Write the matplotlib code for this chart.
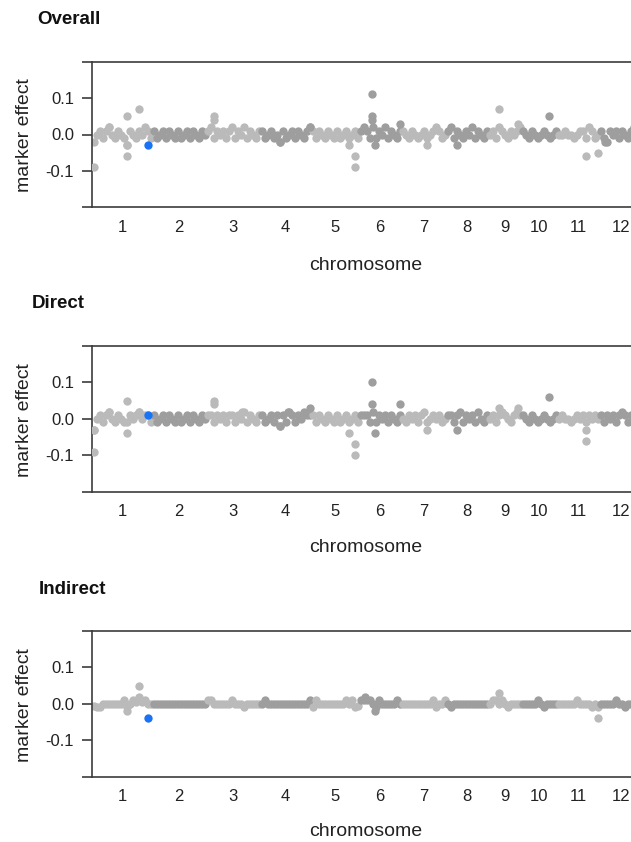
import matplotlib
matplotlib.use('Agg')
import matplotlib.pyplot as plt
import numpy as np

plt.rcParams['font.family'] = ['Liberation Sans', 'DejaVu Sans']

chrom_names = ['1', '2', '3', '4', '5', '6', '7', '8', '9', '10', '11', '12']
chrom_markers = [20, 18, 18, 17, 16, 14, 15, 14, 11, 12, 14, 15]

# marker effects along each chromosome (units of 0.01)
overall_band = [
    [-2, 0, 1, -1, 1, 2, 0, -1, 1, 0, -1, -3, 1, 0, -1, 1, 0, 2, 1, -1],
    [1, -1, 0, 1, -1, 1, 0, -1, 1, -1, 0, 1, -1, 1, 0, -1, 1, 0],
    [1, 2, -1, 1, 0, 1, -1, 1, 2, -1, 1, 0, 2, -1, 1, 0, -1, 1],
    [1, -1, 0, 1, -1, 0, -2, 1, -1, 0, 1, -1, 1, 0, -1, 1, 2],
    [1, -1, 1, 0, -1, 1, 0, -1, 1, -1, 0, 1, -1, 0, 1, -1],
    [1, 2, 1, -1, 2, -1, 1, 0, 2, -1, 1, 0, -1, 1],
    [1, 0, -1, 1, 0, -1, 0, 1, -1, 0, 1, 2, 1, -1, 0],
    [1, 2, -1, 1, 0, -1, 1, 0, 2, -1, 1, 0, -1, 1],
    [0, 1, -1, 2, 1, 0, -1, 1, 0, 1, 2],
    [1, 0, -1, 1, 0, -1, 0, 1, 0, -1, 0, 1],
    [0, 0, 1, 0, 0, -1, 0, 1, 1, -1, 2, 1, -1, 0],
    [1, -1, -2, 1, 0, 1, -1, 1, 0, -1, 1, 2, 1, -1, 1],
]
direct_band = [
    [-3, 0, 1, -1, 1, 2, 0, -1, 1, 0, -1, -1, 1, 0, 1, 2, 0, 1, 1, -1],
    [1, -1, 0, 1, -1, 1, 0, -1, 1, -1, 0, 1, -1, 1, 0, -1, 1, 0],
    [1, 1, -1, 1, 0, 1, -1, 1, 1, -1, 1, 0, 2, -1, 1, 0, -1, 1],
    [1, -1, 0, 1, -1, 1, -2, 1, -1, 2, 1, -1, 1, 0, 2, 1, 1],
    [1, -1, 1, 0, -1, 1, 0, -1, 1, -1, 0, 1, -1, 0, 1, -1],
    [1, 1, 1, -1, 2, -1, 1, 0, 1, -1, 1, 0, -1, 1],
    [0, -1, 1, 0, 1, -1, 1, 2, -1, 0, 1, 0, 1, -1, 0],
    [1, 1, -1, 1, 2, -1, 1, 0, 1, -1, 2, 0, -1, 1],
    [0, 1, -1, 1, 2, 1, 0, -1, 1, 2, 1],
    [1, 0, -1, 1, 0, -1, 0, 1, 0, -1, 0, 1],
    [0, 1, 0, 0, -1, 0, 1, 0, 1, -1, 1, 0, 1, 0],
    [1, -1, 1, 0, 1, -1, 1, 2, 1, -1, 1, 0, 1, -1, 2],
]
indirect_band = [
    [-0.5, -1, -1, 0, 0, 0, 0, 0, 0, 0, 1, -1, 0, 1, 0.5, 1, 0.5, 1, 0, 0],
    [0, 0, 0, 0, 0, 0, 0, 0, 0, 0, 0, 0, 0, 0, 0, 0, 0, 0],
    [1, 1, 0, 0, 0, 0, 0, 0, 1, 0, 0, 0, -1, 0, 0, 0, 0, 0],
    [0, 1, 0, 0, 0, 0, 0, 0, 0, 0, 0, 0, 0, 0, 0, 0, 1],
    [-1, 1, 0, 0, 0, 0, 0, 0, 0, 0, 0, 1, 0, 1, -1, -0.5],
    [1, 1, 1, 1, 0, -1, 1, 0, 0, 0, 0, 0, 1, 0],
    [0, 0, 0, 0, 0, 0, 0, 0, 0, 0, 1, -1, 0, 0, 1],
    [0, -1, 0, 0, 0, 0, 0, 0, 0, 0, 0, 0, 0, 0],
    [0, 1, 1, 0, 1, 0, -1, 0, 0, 0, 0],
    [0, 0, 0, 0, 0, 1, 0, -1, 0, 0, 0, 0],
    [0, 0, 0, 0, 0, 0, 1, 0, 0, 0, 0, -1, 0, -1],
    [0, 0, 0, 0, 0, 1, 0, 0, -1, 0, 0, 0, 0, 0, 0],
]

# markers standing out of the band: chromosome, position in chromosome, effect
overall_out_chr = [1, 1, 1, 1, 1, 1, 3, 3, 4, 4, 5, 5, 5, 6, 6, 6, 6, 6, 7, 8, 9, 9, 10, 11, 11, 12]
overall_out_pos = [0.5, 5.5, 11.5, 11.5, 11.5, 15.5, 2.7, 2.7, 6.6, 16.5, 12.7, 14.6, 14.6,
                   4.3, 4.3, 4.3, 5.4, 13.5, 8.7, 3.7, 3.6, 10.1, 9.2, 9.7, 13.8, 2.0]
overall_out_val = [-0.09, 0.02, 0.05, -0.06, -0.03, 0.07, 0.05, 0.04, -0.02, 0.02, -0.03, -0.06, -0.09,
                   0.11, 0.05, 0.04, -0.03, 0.03, -0.03, -0.03, 0.07, 0.03, 0.05, -0.06, -0.05, -0.02]

direct_out_chr = [1, 1, 1, 1, 1, 1, 3, 3, 3, 4, 4, 4, 5, 5, 5, 6, 6, 6, 6, 7, 8, 9, 9, 10, 11, 11]
direct_out_pos = [0.5, 0.5, 5.5, 11.5, 11.5, 15.5, 2.7, 2.7, 12.0, 6.6, 9.3, 16.5, 12.7, 14.6, 14.6,
                  4.3, 4.3, 5.4, 13.5, 8.7, 3.7, 3.6, 10.1, 9.2, 9.7, 9.7]
direct_out_val = [-0.09, -0.03, 0.02, 0.05, -0.04, 0.02, 0.05, 0.04, 0.02, -0.02, 0.02, 0.03, -0.04, -0.07, -0.10,
                  0.10, 0.04, -0.04, 0.04, -0.03, -0.03, 0.03, 0.03, 0.06, -0.03, -0.06]

indirect_out_chr = [1, 1, 1, 6, 6, 9, 11]
indirect_out_pos = [11.5, 15.5, 15.5, 2.0, 5.4, 3.6, 13.8]
indirect_out_val = [-0.02, 0.05, 0.02, 0.02, -0.02, 0.03, -0.04]

# highlighted marker on chromosome 1
hl_chr = 1
hl_pos = 18.5
hl_val = [-0.03, 0.01, -0.04]

titles = ['Overall', 'Direct', 'Indirect']
bands = [overall_band, direct_band, indirect_band]
outs = [(overall_out_chr, overall_out_pos, overall_out_val),
        (direct_out_chr, direct_out_pos, direct_out_val),
        (indirect_out_chr, indirect_out_pos, indirect_out_val)]

W, H = 631, 842
fig = plt.figure(figsize=(W / 100, H / 100), dpi=100)

light, dark = '#bababa', '#9e9e9e'
line_col = '#3c3c3c'
dot = 36
starts = np.cumsum([0] + chrom_markers[:-1])
centers = starts + np.array(chrom_markers) / 2
total = sum(chrom_markers)

# pixel layout of each panel: axes top, axes bottom, title pos, ylabel y, xlabel y
tops = [61.7, 346, 631]
bottoms = [207.3, 491.7, 776.7]
title_xy = [(37, 20), (32, 304), (39, 589)]
ylab_y = [135, 420, 705]
xlab_y = [265, 548, 832]
left_px, right_px = 92, 644

for k in range(3):
    ax = fig.add_axes([left_px / W, 1 - bottoms[k] / H,
                       (right_px - left_px) / W, (bottoms[k] - tops[k]) / H])
    for i, vals in enumerate(bands[k]):
        x = starts[i] + np.arange(len(vals)) + 0.5
        y = np.array(vals) * 0.01
        ax.scatter(x, y, s=dot, color=light if i % 2 == 0 else dark, linewidths=0, zorder=2)
    oc, op, ov = outs[k]
    for c, p, v in zip(oc, op, ov):
        ax.scatter(starts[c - 1] + p, v, s=dot, color=light if (c - 1) % 2 == 0 else dark,
                   linewidths=0, zorder=3)
    ax.scatter(starts[hl_chr - 1] + hl_pos, hl_val[k], s=dot, color='#1a73f5', linewidths=0, zorder=4)

    ax.set_xlim(0, total)
    ax.set_ylim(-0.2, 0.2)
    ax.set_yticks([-0.2, -0.1, 0.0, 0.1, 0.2])
    ax.set_yticklabels(['', '-0.1', '0.0', '0.1', ''])
    ax.set_xticks(centers)
    ax.set_xticklabels(chrom_names)
    ax.tick_params(axis='y', length=7, width=1.2, color=line_col, pad=6, labelsize=12, labelcolor='#222222')
    ax.tick_params(axis='x', length=0, pad=9, labelsize=12, labelcolor='#222222')
    ax.spines['right'].set_visible(False)
    for s in ['left', 'top', 'bottom']:
        ax.spines[s].set_color(line_col)
        ax.spines[s].set_linewidth(1.2)

    fig.text(title_xy[k][0] / W, 1 - title_xy[k][1] / H, titles[k], fontsize=13.5,
             fontweight='bold', ha='left', va='center', color='#111111')
    fig.text(25 / W, 1 - ylab_y[k] / H, 'marker effect', rotation=90, fontsize=14,
             ha='center', va='center', color='#222222')
    fig.text(366 / W, 1 - xlab_y[k] / H, 'chromosome', fontsize=14,
             ha='center', va='center', color='#222222')

fig.savefig('out.png', dpi=100)
